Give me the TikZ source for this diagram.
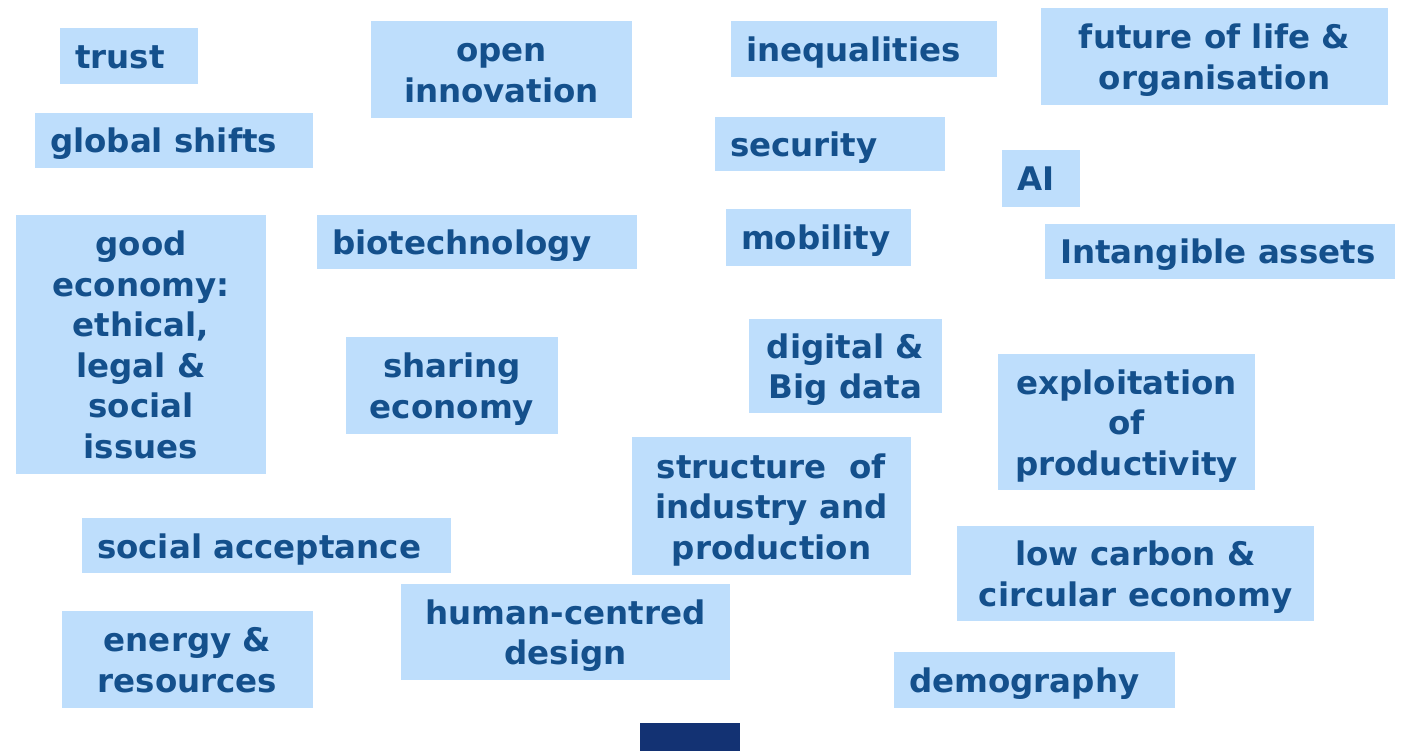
\documentclass[tikz,border=0pt]{standalone}
\usepackage{fontspec}
\setmainfont{DejaVu Sans}
\definecolor{tagfill}{RGB}{190,222,252}
\definecolor{tagtext}{RGB}{20,80,140}
\definecolor{barblue}{RGB}{19,50,115}
% stacked lines of a tag, first baseline as the box baseline
\newcommand\taglines[1]{\begin{tabular}[t]{@{}c@{}}#1\end{tabular}}
\begin{document}
\begin{tikzpicture}[x=1pt,y=-1pt,
  tag/.style={fill=tagfill,text=tagtext,font=\bfseries\fontsize{32.5}{40.5}\selectfont,
    anchor=north west,inner xsep=15pt,inner ysep=0pt,outer sep=0pt},
  % baseline placement for one, two, three and six lines of text
  lines1/.style={tag,text height=25pt,text depth=0pt},
  lines2/.style={tag,text height=0pt,text depth=15.5pt},
  lines3/.style={tag,text height=0pt,text depth=56pt},
  lines6/.style={tag,text height=0pt,text depth=177.5pt}]
\useasboundingbox (0,0) rectangle (1408,751);
% single-line tags, text flush left
\node[lines1,minimum height=56pt] (trust) at (60,28) {\makebox[108pt][l]{trust}};
\node[lines1,minimum height=55pt] (shifts) at (35,113) {\makebox[248pt][l]{global shifts}};
\node[lines1,minimum height=56pt] (ineq) at (731,21) {\makebox[236pt][l]{inequalities}};
\node[lines1,minimum height=54pt] (security) at (715,117) {\makebox[200pt][l]{security}};
\node[lines1,minimum height=57pt] (ai) at (1002,150) {\makebox[48pt][l]{AI}};
\node[lines1,minimum height=54pt] (biotech) at (317,215) {\makebox[290pt][l]{biotechnology}};
\node[lines1,minimum height=57pt] (mobility) at (726,209) {\makebox[155pt][l]{mobility}};
\node[lines1,minimum height=55pt] (intangible) at (1045,224) {\makebox[320pt][l]{Intangible assets}};
\node[lines1,minimum height=55pt] (acceptance) at (82,518) {\makebox[339pt][l]{social acceptance}};
\node[lines1,minimum height=56pt] (demography) at (894,652) {\makebox[251pt][l]{demography}};
% multi-line tags, text centred
\node[lines2,minimum width=261pt,minimum height=97pt] (openinn) at (371,21) {\taglines{open\\innovation}};
\node[lines2,minimum width=347pt,minimum height=97pt] (future) at (1041,8) {\taglines{future of life \&\\organisation}};
\node[lines6,minimum width=250pt,minimum height=259pt] (goodeco) at (16,215) {\taglines{good\\economy:\\ethical,\\legal \&\\social\\issues}};
\node[lines2,minimum width=212pt,minimum height=97pt] (sharing) at (346,337) {\taglines{sharing\\economy}};
\node[lines2,minimum width=193pt,minimum height=94pt] (digital) at (749,319) {\taglines{digital \&\\Big data}};
\node[lines3,minimum width=257pt,minimum height=136pt] (exploit) at (998,354) {\taglines{exploitation\\of\\productivity}};
\node[lines3,minimum width=279pt,minimum height=138pt] (industry) at (632,437) {\taglines{structure~ of\\industry and\\production}};
\node[lines2,minimum width=357pt,minimum height=95pt] (lowcarbon) at (957,526) {\taglines{low carbon \&\\circular economy}};
\node[lines2,minimum width=251pt,minimum height=97pt] (energy) at (62,611) {\taglines{energy \&\\resources}};
\node[lines2,minimum width=329pt,minimum height=96pt] (humandesign) at (401,584) {\taglines{human-centred\\design}};
% dark bar at the lower edge
\fill[barblue] (640,723) rectangle (740,760);
\end{tikzpicture}
\end{document}
